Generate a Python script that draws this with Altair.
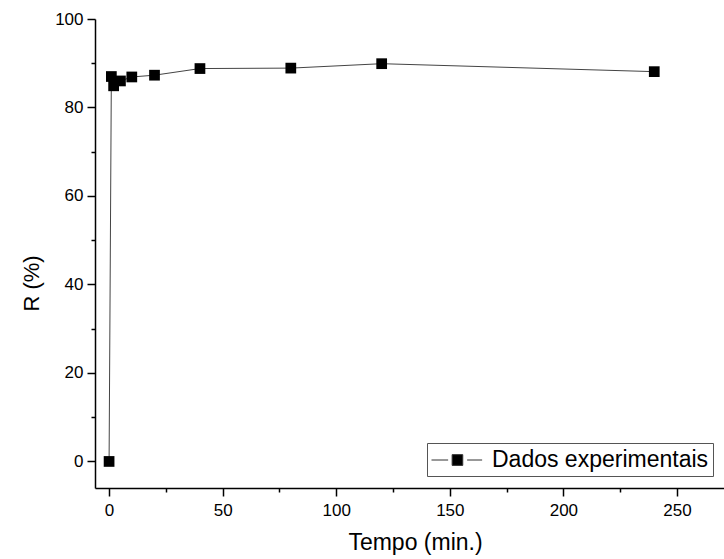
import altair as alt
import pandas as pd

tempo = [0, 1, 2, 5, 10, 20, 40, 80, 120, 240]
remocao = [0.0, 87.0, 84.9, 86.0, 86.9, 87.3, 88.8, 88.9, 89.9, 88.1]
serie = "Dados experimentais"

x_ticks = [0, 25, 50, 75, 100, 125, 150, 175, 200, 225, 250]
y_ticks = [0, 10, 20, 30, 40, 50, 60, 70, 80, 90, 100]

df = pd.DataFrame({"t": tempo, "r": remocao, "s": [serie] * len(tempo)})

FONT = "Liberation Sans"

x_enc = alt.X(
    "t:Q",
    scale=alt.Scale(domain=[-6.2, 270.7], nice=False, zero=False),
    axis=alt.Axis(
        title="Tempo (min.)",
        values=x_ticks,
        labelExpr="datum.value % 50 === 0 ? datum.label : ''",
        tickSize={"condition": {"test": "datum.value % 50 === 0", "value": 8}, "value": 4},
        grid=False,
        labelPadding=6,
        titlePadding=13,
        titleX=320,
        titleFontSize=23,
    ),
)
y_enc = alt.Y(
    "r:Q",
    scale=alt.Scale(domain=[-6, 100], nice=False, zero=False),
    axis=alt.Axis(
        title="R (%)",
        values=y_ticks,
        labelExpr="datum.value % 20 === 0 ? datum.label : ''",
        tickSize={"condition": {"test": "datum.value % 20 === 0", "value": 8}, "value": 4},
        grid=False,
        labelPadding=4,
        titlePadding=11,
        titleY=264,
    ),
)

line = alt.Chart(df).mark_line(color="#444444", strokeWidth=1).encode(x=x_enc, y=y_enc, order="t:Q")

points = alt.Chart(df).mark_point(shape="square", filled=True, size=115, opacity=1).encode(
    x="t:Q",
    y="r:Q",
    color=alt.Color(
        "s:N",
        scale=alt.Scale(range=["#000000"]),
        legend=alt.Legend(
            title=None,
            orient="none",
            legendX=332,
            legendY=424,
            strokeColor="#555555",
            fillColor="white",
            padding=4,
            symbolType="M-1,0L0.33,0M1.85,0L3.05,0M0.65,-0.43L1.5,-0.43L1.5,0.43L0.65,0.43Z",
            symbolSize=625,
            symbolStrokeWidth=1,
            symbolStrokeColor="#333333",
            symbolFillColor="#000000",
            labelFontSize=23,
            labelFont=FONT,
            labelColor="black",
            labelOffset=35,
            labelLimit=500,
        ),
    ),
)

chart = (
    alt.layer(line, points)
    .properties(
        width=629,
        height=469,
        padding={"left": 95, "top": 19, "right": 0, "bottom": 71},
        autosize=alt.AutoSizeParams(type="none"),
    )
    .configure_view(stroke=None)
    .configure_axis(
        domainColor="black",
        domainWidth=1.5,
        tickColor="black",
        tickWidth=1.5,
        labelFont=FONT,
        labelFontSize=17,
        labelColor="black",
        titleFont=FONT,
        titleFontSize=22,
        titleFontWeight="normal",
        titleColor="black",
    )
)

chart.save("out.html", embed_options={"renderer": "svg", "actions": False})
